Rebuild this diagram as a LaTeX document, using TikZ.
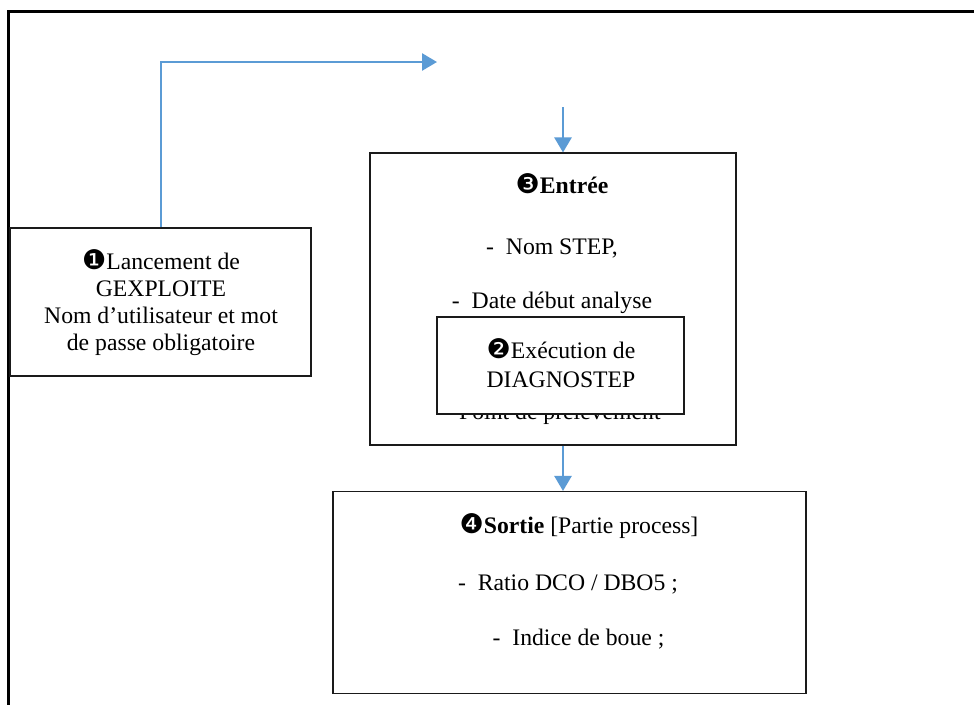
\documentclass[tikz,border=0pt]{standalone}
\usepackage{fontspec}
\setmainfont{Liberation Serif}
\newfontfamily\dingfont{DejaVu Sans}
\usetikzlibrary{arrows.meta}
\definecolor{arrowblue}{HTML}{5B9BD5}
\definecolor{boxline}{HTML}{1A1A1A}
\newcommand{\numding}[1]{{\dingfont\fontsize{27}{27}\selectfont #1}}
\begin{document}
\begin{tikzpicture}[x=1pt,y=-1pt,
  box/.style={draw=boxline, line width=1.1pt, fill=white, inner sep=0pt},
  txt/.style={font=\fontsize{23.7}{27}\selectfont, align=center, inner sep=0pt},
  flow/.style={draw=arrowblue, line width=2.5pt, -{Triangle[length=15pt,width=17pt]}}]
\useasboundingbox (0,0) rectangle (974,704);
\fill[white] (0,0) rectangle (974,704);
% outer frame (cropped)
\draw[line width=2.6pt, line join=miter] (976,11.5) -- (8.5,11.5) -- (8.5,706);
% box 1
\node[box, minimum width=301pt, minimum height=148pt] (b1) at (160.5,302) {};
\node[txt] (t1) at (161,302.5) {\numding{❶}Lancement de\\GEXPLOITE\\Nom d’utilisateur et mot\\de passe obligatoire};
% box 3 (Entree)
\node[box, minimum width=366pt, minimum height=292pt] (b3) at (553,299) {};
\node[txt, anchor=base] (t3a) at (562,193) {\numding{❸}\textbf{Entrée}};
\node[txt, anchor=base] (t3b) at (552,254) {-\ \ Nom STEP,};
\node[txt, anchor=base] (t3c) at (552,308) {-\ \ Date début analyse};
\node[txt, anchor=base] (t3d) at (550,419.5) {-\ \ Point de prélèvement};
% box 2 (over the list)
\node[box, minimum width=247pt, minimum height=97pt] (b2) at (560.5,365.5) {};
\node[txt, font=\fontsize{23.7}{29}\selectfont] (t2) at (561,363) {\numding{❷}Exécution de\\DIAGNOSTEP};
% box 4 (Sortie)
\node[box, minimum width=473pt, minimum height=202pt] (b4) at (569.5,592.5) {};
\node[txt, anchor=base] (t4a) at (579,533) {\numding{❹}\textbf{Sortie} [Partie process]};
\node[txt, anchor=base] (t4b) at (568,590) {-\ \ Ratio DCO / DBO5 ;};
\node[txt, anchor=base] (t4c) at (578.5,645) {-\ \ Indice de boue ;};
% connectors
\coordinate (c1) at (161,62);
\coordinate (e1) at (437,62);
\coordinate (s2) at (563,107);
\draw[flow, line join=miter] (b1.north -| c1) -- (c1) -- (e1);
\draw[flow] (s2) -- (s2 |- b3.north);
\draw[flow] (b3.south -| s2) -- (s2 |- b4.north);
\end{tikzpicture}
\end{document}
